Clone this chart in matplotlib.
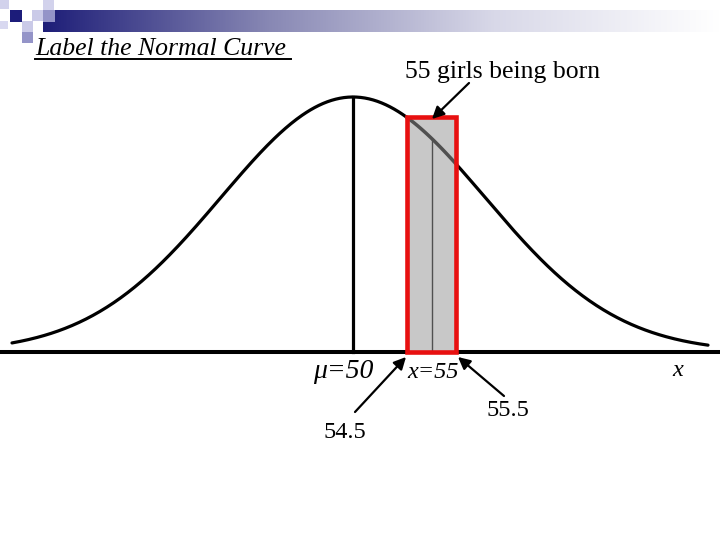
import numpy as np
import matplotlib.pyplot as plt
from matplotlib.patches import Rectangle
from matplotlib.colors import LinearSegmentedColormap

plt.rcParams['font.family'] = ['Liberation Serif', 'DejaVu Serif']

# diagram is drawn on a 720x540 canvas (y grows downwards)
mu_pos = 353        # where the mean sits
sigma_pos = 132     # spread of the drawn curve
base_y = 352        # x-axis line
peak_h = 255        # height of the curve at the mean
tail_ends = [12, 708]

bar_edges = [407, 456]     # 54.5 and 55.5
bar_mid = 432              # x = 55

labels = ['\u03bc=50', 'x=55', 'x', '54.5', '55.5']
label_pos = [(343, 372), (433, 373), (678, 370), (345, 433), (508, 410)]
label_size = [20, 17.5, 17.5, 17.5, 17.5]
label_italic = [True, True, True, False, False]

# arrows: (tail, head)
arrows = [((355, 412), (406, 357)),
          ((504, 396), (458, 357)),
          ((469, 83), (432, 119))]

# header decoration squares: x, y, size, colour
squares = [(0, 0, 9, '#d2d2ec'), (10, 10, 12, '#1c1c7a'), (32, 10, 11, '#cacae8'),
           (43, 0, 11, '#d2d2ec'), (43, 10, 12, '#9494c8'), (22, 21, 11, '#cacae8'),
           (0, 21, 8, '#d8d8f0'), (22, 32, 11, '#9494c8')]


def curve(x):
    return base_y - peak_h * np.exp(-(x - mu_pos) ** 2 / (2 * sigma_pos ** 2))


fig = plt.figure(figsize=(7.2, 5.4), dpi=100)
ax = fig.add_axes([0, 0, 1, 1])

# gradient band at the top
cmap = LinearSegmentedColormap.from_list('band', ['#1e1e78', '#8888b4', '#d8d8e8', '#ffffff'])
grad = np.linspace(0, 1, 256).reshape(1, -1)
ax.imshow(grad, extent=[43, 720, 32, 10], aspect='auto', cmap=cmap, zorder=1)
for sx, sy, s, c in squares:
    ax.add_patch(Rectangle((sx, sy), s, s, facecolor=c, edgecolor='none', zorder=2))

ax.set_xlim(0, 720)
ax.set_ylim(540, 0)
ax.axis('off')

# title
ax.text(35, 55, 'Label the Normal Curve', fontsize=18.5, style='italic', va='baseline')
ax.plot([35, 291], [59, 59], color='k', lw=1.4)

# normal curve
xs = np.linspace(tail_ends[0], tail_ends[1], 500)
ax.plot(xs, curve(xs), color='k', lw=2.3, zorder=2, solid_capstyle='round')

# axis line and mean line
ax.plot([0, 720], [base_y, base_y], color='k', lw=2.9, zorder=3)
ax.plot([mu_pos, mu_pos], [curve(mu_pos), base_y], color='k', lw=2.3, zorder=3)

# bar for 55
top = curve(bar_edges[0])
w = bar_edges[1] - bar_edges[0]
ax.add_patch(Rectangle((bar_edges[0], top), w, base_y - top,
                       facecolor='#c8c8c8', edgecolor='none', zorder=4))
xb = np.linspace(bar_edges[0], bar_edges[1], 50)
ax.plot(xb, curve(xb), color='#505050', lw=2.5, zorder=5)
ax.plot([bar_mid, bar_mid], [curve(bar_mid), base_y], color='#505050', lw=1, zorder=5)
ax.add_patch(Rectangle((bar_edges[0], top), w, base_y - top,
                       fill=False, edgecolor='#e81010', lw=3.3, zorder=6))

# labels
ax.text(405, 78, '55 girls being born', fontsize=18.5, va='baseline')
for t, (lx, ly), fs, it in zip(labels, label_pos, label_size, label_italic):
    ax.text(lx, ly, t, fontsize=fs, ha='center', va='center',
            style='italic' if it else 'normal')

for tail, head in arrows:
    ax.annotate('', xy=head, xytext=tail,
                arrowprops=dict(arrowstyle='-|>', color='k', lw=1.6,
                                mutation_scale=18, shrinkA=0, shrinkB=0),
                zorder=7)

fig.savefig('out.png', dpi=100)
